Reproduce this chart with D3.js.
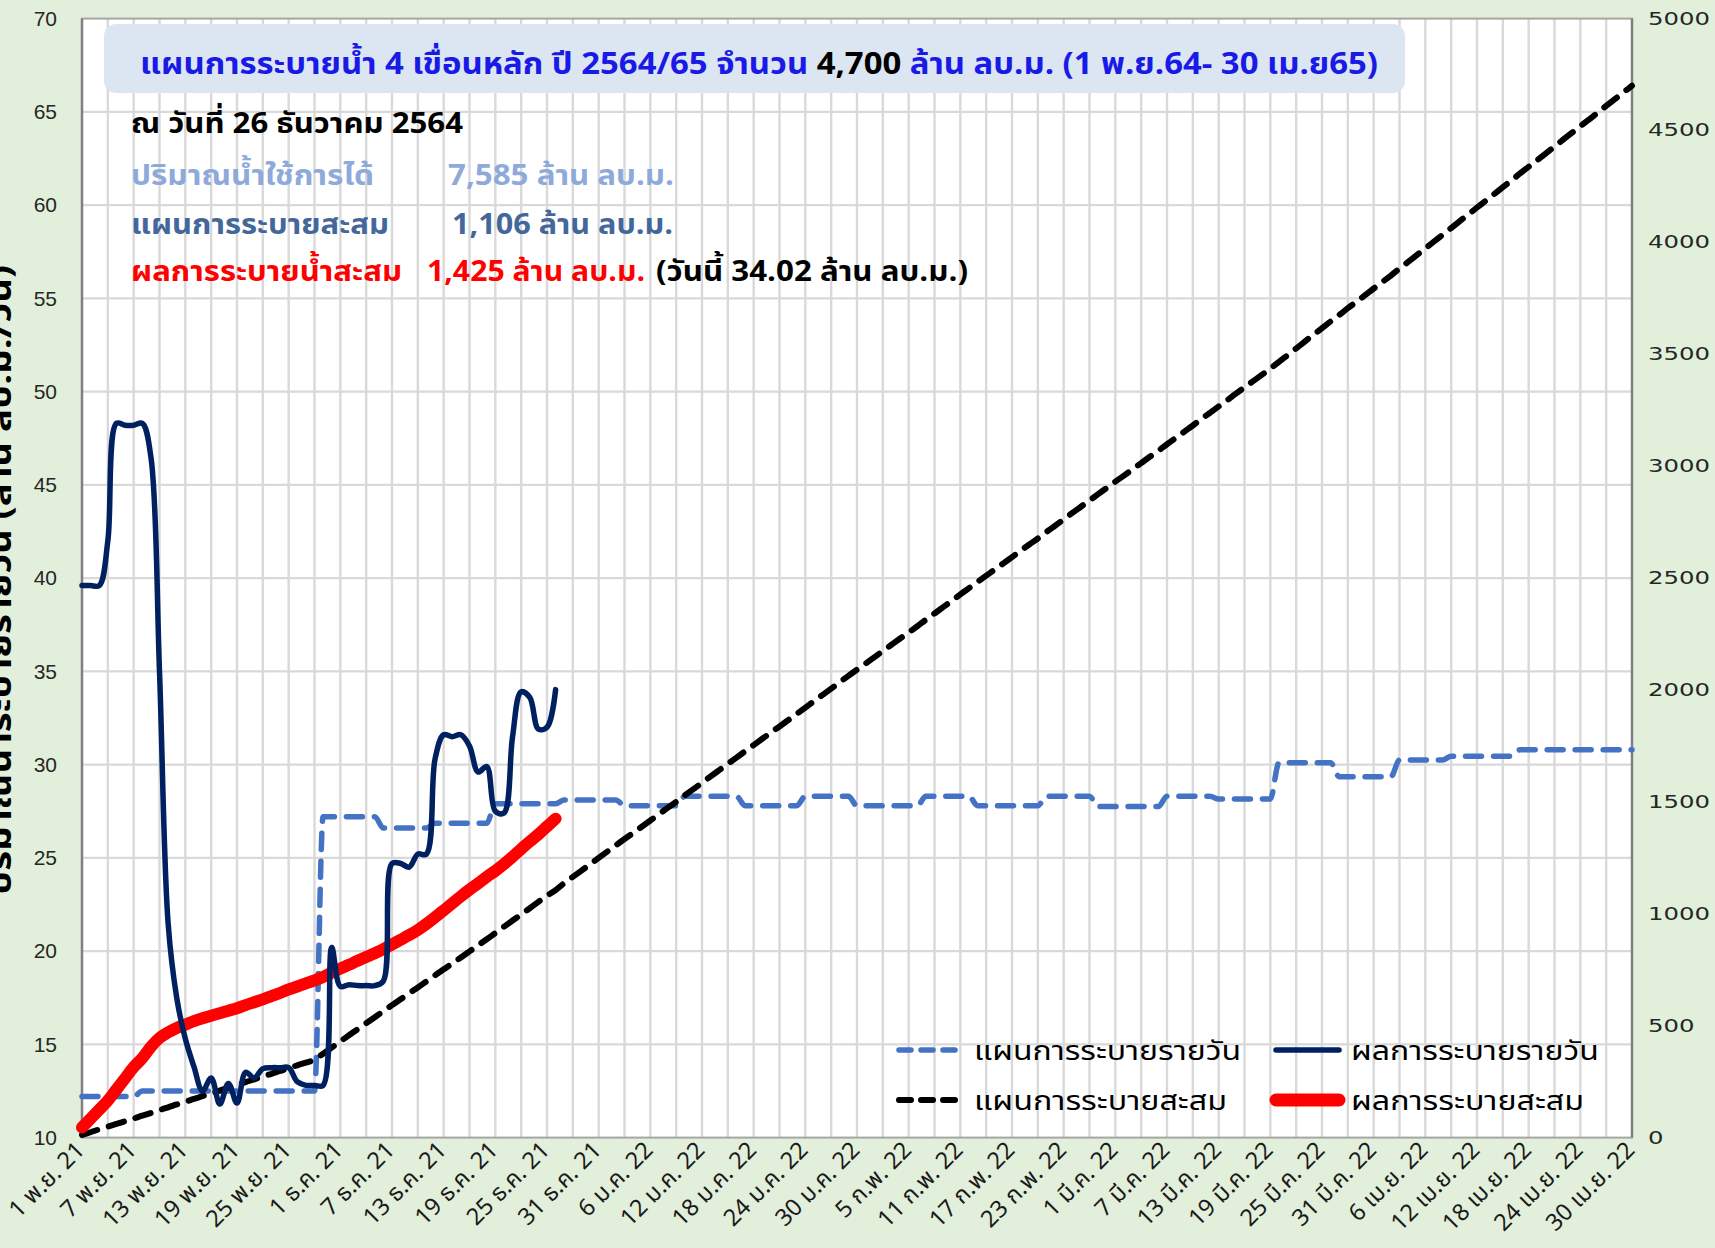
<!DOCTYPE html>
<html>
<head>
<meta charset="utf-8">
<script src="https://cdnjs.cloudflare.com/ajax/libs/d3/7.8.5/d3.min.js"></script>
<style>
  html, body { margin: 0; padding: 0; background: #e2efda; }
  svg { display: block; }
</style>
</head>
<body>
<svg id="chart" width="1715" height="1248"></svg>
<script>
// Tick labels along the date axis, one every 6 days (1 Nov 2021 - 30 Apr 2022, 181 days)
const tickLabels = [
  "1 พ.ย. 21", "7 พ.ย. 21", "13 พ.ย. 21", "19 พ.ย. 21", "25 พ.ย. 21",
  "1 ธ.ค. 21", "7 ธ.ค. 21", "13 ธ.ค. 21", "19 ธ.ค. 21", "25 ธ.ค. 21",
  "31 ธ.ค. 21", "6 ม.ค. 22", "12 ม.ค. 22", "18 ม.ค. 22", "24 ม.ค. 22",
  "30 ม.ค. 22", "5 ก.พ. 22", "11 ก.พ. 22", "17 ก.พ. 22", "23 ก.พ. 22",
  "1 มี.ค. 22", "7 มี.ค. 22", "13 มี.ค. 22", "19 มี.ค. 22", "25 มี.ค. 22",
  "31 มี.ค. 22", "6 เม.ย. 22", "12 เม.ย. 22", "18 เม.ย. 22", "24 เม.ย. 22",
  "30 เม.ย. 22"
];

// Daily release plan (million m3/day), one value per day
const planDaily = [
  12.2, 12.2, 12.2, 12.2, 12.2, 12.2, 12.2,
  12.5, 12.5, 12.5, 12.5, 12.5, 12.5, 12.5, 12.5, 12.5, 12.5, 12.5,
  12.5, 12.5, 12.5, 12.5, 12.5, 12.5, 12.5, 12.5, 12.5, 12.5,
  27.2, 27.2, 27.2, 27.2, 27.2, 27.2, 27.2,
  26.6, 26.6, 26.6, 26.6, 26.6, 26.6,
  26.85, 26.85, 26.85, 26.85, 26.85, 26.85, 26.85,
  27.9, 27.9, 27.9, 27.9, 27.9, 27.9, 27.9, 27.9,
  28.1, 28.1, 28.1, 28.1, 28.1, 28.1, 28.1,
  27.8, 27.8, 27.8, 27.8, 27.8, 27.8, 27.8,
  28.3, 28.3, 28.3, 28.3, 28.3, 28.3, 28.3,
  27.8, 27.8, 27.8, 27.8, 27.8, 27.8, 27.8,
  28.3, 28.3, 28.3, 28.3, 28.3, 28.3,
  27.8, 27.8, 27.8, 27.8, 27.8, 27.8, 27.8, 27.8,
  28.3, 28.3, 28.3, 28.3, 28.3, 28.3,
  27.8, 27.8, 27.8, 27.8, 27.8, 27.8, 27.8, 27.8,
  28.3, 28.3, 28.3, 28.3, 28.3, 28.3,
  27.75, 27.75, 27.75, 27.75, 27.75, 27.75, 27.75, 27.75,
  28.3, 28.3, 28.3, 28.3, 28.3, 28.3,
  28.15, 28.15, 28.15, 28.15, 28.15, 28.15, 28.15,
  30.1, 30.1, 30.1, 30.1, 30.1, 30.1, 30.1,
  29.35, 29.35, 29.35, 29.35, 29.35, 29.35, 29.35,
  30.25, 30.25, 30.25, 30.25, 30.25, 30.25,
  30.45, 30.45, 30.45, 30.45, 30.45, 30.45, 30.45, 30.45,
  30.8, 30.8, 30.8, 30.8, 30.8, 30.8, 30.8,
  30.8, 30.8, 30.8, 30.8, 30.8, 30.8, 30.8
];

// Cumulative release plan (million m3), right axis
const planCumulative = [
  12, 24, 37, 49, 61, 73, 85,
  98, 110, 123, 135, 148, 160, 173, 185, 198, 210, 223,
  235, 248, 260, 273, 285, 298, 310, 323, 335, 348,
  375, 402, 430, 457, 484, 511, 538,
  565, 592, 618, 645, 671, 698,
  725, 752, 778, 805, 832, 859, 886,
  914, 942, 970, 997, 1025, 1053, 1081, 1106,
  1137, 1165, 1193, 1221, 1250, 1278, 1306,
  1334, 1361, 1389, 1417, 1445, 1473, 1500,
  1529, 1557, 1585, 1614, 1642, 1670, 1698,
  1726, 1754, 1782, 1810, 1837, 1865, 1893,
  1921, 1950, 1978, 2006, 2035, 2063,
  2091, 2118, 2146, 2174, 2202, 2230, 2257, 2285,
  2314, 2342, 2370, 2398, 2427, 2455,
  2483, 2511, 2538, 2566, 2594, 2622, 2650, 2677,
  2706, 2734, 2762, 2791, 2819, 2847,
  2875, 2903, 2931, 2958, 2986, 3014, 3042, 3069,
  3098, 3126, 3154, 3182, 3211, 3239,
  3267, 3295, 3324, 3352, 3380, 3408, 3436,
  3466, 3496, 3526, 3557, 3587, 3617, 3647,
  3676, 3706, 3735, 3764, 3794, 3823, 3852,
  3883, 3913, 3943, 3973, 4004, 4034,
  4064, 4095, 4125, 4156, 4186, 4216, 4247, 4277,
  4308, 4338, 4368, 4398, 4428, 4459, 4489,
  4519, 4549, 4579, 4610, 4640, 4670, 4700
];

// Actual daily release (million m3/day), 1 Nov - 26 Dec 2021
const actualDaily = [
  39.6, 39.6, 39.6, 42.0, 48.3, 48.2, 48.2, 48.3, 46.5, 35.0,
  21.5, 17.5, 15.3, 13.8, 12.5, 13.2, 11.8, 12.9, 11.85, 13.5,
  13.2, 13.7, 13.75, 13.75, 13.75, 13.0, 12.8, 12.8, 12.8, 20.2,
  18.1, 18.2, 18.15, 18.15, 18.15, 18.4, 24.7, 24.7, 24.5, 25.2,
  25.2, 30.3, 31.6, 31.5, 31.6, 31.0, 29.6, 29.9, 27.5, 27.4,
  31.5, 33.9, 33.6, 31.9, 32.0, 34.02
];

// Actual cumulative release (million m3), right axis
const actualCumulative = [
  45, 85, 125, 165, 215, 265, 315, 355, 405, 445,
  470, 490, 505, 520, 533, 545, 556, 567, 578, 592,
  605, 618, 632, 646, 662, 675, 689, 703, 718, 737,
  755, 772, 790, 807, 824, 842, 863, 884, 905, 928,
  955, 985, 1015, 1047, 1078, 1108, 1136, 1165, 1192, 1222,
  1255, 1290, 1323, 1355, 1390, 1425
];

const legendLabels = ["แผนการระบายรายวัน", "ผลการระบายรายวัน", "แผนการระบายสะสม", "ผลการระบายสะสม"];
const leftTicks = [10, 15, 20, 25, 30, 35, 40, 45, 50, 55, 60, 65, 70];
const rightTicks = [0, 500, 1000, 1500, 2000, 2500, 3000, 3500, 4000, 4500, 5000];

const THAI = "Tahoma, 'Noto Sans Thai', 'Leelawadee UI', 'Noto Sans', 'DejaVu Sans', sans-serif";

const svg = d3.select("#chart");
const W = 1715, H = 1248;
const m = { left: 82, right: 1632, top: 18.6, bottom: 1137.6 };

const x = d3.scaleLinear().domain([0, 180]).range([m.left, m.right]);
const yL = d3.scaleLinear().domain([10, 70]).range([m.bottom, m.top]);
const yR = d3.scaleLinear().domain([0, 5000]).range([m.bottom, m.top]);

svg.append("rect").attr("width", W).attr("height", H).attr("fill", "#e2efda");

// plot area
svg.append("rect")
  .attr("x", m.left).attr("y", m.top)
  .attr("width", m.right - m.left).attr("height", m.bottom - m.top)
  .attr("fill", "#ffffff");

// gridlines
const grid = svg.append("g").attr("stroke", "#d9d9d9").attr("stroke-width", 2.4);
grid.selectAll("line.v").data(d3.range(3, 180, 3)).join("line")
  .attr("x1", d => x(d)).attr("x2", d => x(d))
  .attr("y1", m.top).attr("y2", m.bottom);
grid.selectAll("line.h").data(leftTicks.slice(1, -1)).join("line")
  .attr("x1", m.left).attr("x2", m.right)
  .attr("y1", d => yL(d)).attr("y2", d => yL(d));

// plot border
svg.append("rect")
  .attr("x", m.left).attr("y", m.top)
  .attr("width", m.right - m.left).attr("height", m.bottom - m.top)
  .attr("fill", "none").attr("stroke", "#a6a6a6").attr("stroke-width", 2);
svg.append("line").attr("x1", m.left).attr("x2", m.left).attr("y1", m.top).attr("y2", m.bottom)
  .attr("stroke", "#808080").attr("stroke-width", 2.5);
svg.append("line").attr("x1", m.right).attr("x2", m.right).attr("y1", m.top).attr("y2", m.bottom)
  .attr("stroke", "#808080").attr("stroke-width", 2.5);

// left axis
const axL = svg.append("g").attr("transform", `translate(${m.left},0)`)
  .call(d3.axisLeft(yL).tickValues(leftTicks).tickSize(0).tickPadding(25));
axL.select(".domain").remove();
axL.selectAll("text").attr("font-family", "'Liberation Sans', Arial, sans-serif")
  .attr("font-size", 21).attr("fill", "#262626");

// right axis
const axR = svg.append("g").attr("transform", `translate(${m.right},0)`)
  .call(d3.axisRight(yR).tickValues(rightTicks).tickFormat(d3.format("d")).tickSize(0).tickPadding(16));
axR.select(".domain").remove();
axR.selectAll("text").attr("font-family", "'DejaVu Sans', Verdana, sans-serif")
  .attr("font-size", 17).attr("fill", "#262626")
  .attr("textLength", d => String(d).length * 15.5).attr("lengthAdjust", "spacingAndGlyphs");

// date labels
svg.append("g").selectAll("text").data(tickLabels).join("text")
  .attr("transform", (d, i) => `translate(${x(i * 6) + 4},${m.bottom + 14}) rotate(-45)`)
  .attr("text-anchor", "end")
  .attr("font-family", THAI).attr("font-size", 23.5).attr("fill", "#1a1a1a")
  .text(d => d);

// left axis title (partly outside the page)
svg.append("text")
  .attr("transform", `translate(11,580) rotate(-90)`)
  .attr("text-anchor", "middle")
  .attr("font-family", THAI).attr("font-weight", "bold").attr("font-size", 31).attr("fill", "#000")
  .attr("textLength", 630).attr("lengthAdjust", "spacingAndGlyphs")
  .text("ปริมาณน้ำระบายรายวัน (ล้าน ลบ.ม./วัน)");

// series
const lineL = d3.line().x((d, i) => x(i)).y(d => yL(d)).curve(d3.curveMonotoneX);
const lineR = d3.line().x((d, i) => x(i)).y(d => yR(d)).curve(d3.curveMonotoneX);
const lineSmooth = d3.line().x((d, i) => x(i)).y(d => yL(d)).curve(d3.curveCatmullRom.alpha(0.5));

svg.append("path").datum(planDaily).attr("d", lineL)
  .attr("fill", "none").attr("stroke", "#4472c4").attr("stroke-width", 5.5)
  .attr("stroke-dasharray", "16,12").attr("stroke-linecap", "round");

svg.append("path").datum(planCumulative).attr("d", lineR)
  .attr("fill", "none").attr("stroke", "#000").attr("stroke-width", 6)
  .attr("stroke-dasharray", "16,12").attr("stroke-linecap", "round");

svg.append("path").datum(actualCumulative).attr("d", lineR)
  .attr("fill", "none").attr("stroke", "#ff0000").attr("stroke-width", 12)
  .attr("stroke-linecap", "round").attr("stroke-linejoin", "round");

svg.append("path").datum(actualDaily).attr("d", lineSmooth)
  .attr("fill", "none").attr("stroke", "#002060").attr("stroke-width", 5.5)
  .attr("stroke-linecap", "round").attr("stroke-linejoin", "round");

// legend
const legend = svg.append("g");
const legItems = [
  { label: legendLabels[0], x: 895, y: 1050, color: "#4472c4", w: 5.5, dash: "12,10", tx: 974, tw: 267 },
  { label: legendLabels[1], x: 1272, y: 1050, color: "#002060", w: 5.5, dash: null, tx: 1351, tw: 248 },
  { label: legendLabels[2], x: 895, y: 1100, color: "#000000", w: 6, dash: "12,10", tx: 974, tw: 253 },
  { label: legendLabels[3], x: 1272, y: 1100, color: "#ff0000", w: 13, dash: null, tx: 1351, tw: 233 }
];
legItems.forEach(it => {
  legend.append("line")
    .attr("x1", it.x + 4).attr("x2", it.x + 67).attr("y1", it.y).attr("y2", it.y)
    .attr("stroke", it.color).attr("stroke-width", it.w).attr("stroke-linecap", "round")
    .attr("stroke-dasharray", it.dash);
  legend.append("text")
    .attr("x", it.tx).attr("y", it.y + 10)
    .attr("font-family", THAI).attr("font-size", 27).attr("fill", "#000")
    .attr("textLength", it.tw).attr("lengthAdjust", "spacingAndGlyphs")
    .text(it.label);
});

// title box
svg.append("rect")
  .attr("x", 104).attr("y", 24).attr("width", 1301).attr("height", 69)
  .attr("rx", 12).attr("fill", "#dce6f2");

const title = svg.append("text")
  .attr("x", 140).attr("y", 74)
  .attr("font-family", THAI).attr("font-weight", "bold").attr("font-size", 30)
  .attr("textLength", 1238).attr("lengthAdjust", "spacingAndGlyphs");
title.append("tspan").attr("fill", "#1a1ae6").text("แผนการระบายน้ำ 4 เขื่อนหลัก ปี 2564/65 จำนวน ");
title.append("tspan").attr("fill", "#000").text("4,700");
title.append("tspan").attr("fill", "#1a1ae6").text(" ล้าน ลบ.ม. (1 พ.ย.64- 30 เม.ย65)");

// status notes
const notes = [
  { t: "ณ วันที่ 26 ธันวาคม 2564", x: 131, y: 133, w: 332, c: "#000000" },
  { t: "ปริมาณน้ำใช้การได้", x: 131, y: 185, w: 243, c: "#8eaadb" },
  { t: "7,585 ล้าน ลบ.ม.", x: 448, y: 185, w: 226, c: "#8eaadb" },
  { t: "แผนการระบายสะสม", x: 131, y: 234, w: 258, c: "#44679b" },
  { t: "1,106 ล้าน ลบ.ม.", x: 452, y: 234, w: 221, c: "#44679b" },
  { t: "ผลการระบายน้ำสะสม", x: 131, y: 281, w: 271, c: "#ff0000" },
  { t: "1,425 ล้าน ลบ.ม.", x: 427, y: 281, w: 218, c: "#ff0000" },
  { t: "(วันนี้ 34.02 ล้าน ลบ.ม.)", x: 656, y: 281, w: 312, c: "#000000" }
];
svg.append("g").selectAll("text").data(notes).join("text")
  .attr("x", d => d.x).attr("y", d => d.y)
  .attr("font-family", THAI).attr("font-weight", "bold").attr("font-size", 29)
  .attr("fill", d => d.c)
  .attr("textLength", d => d.w).attr("lengthAdjust", "spacingAndGlyphs")
  .text(d => d.t);
</script>
</body>
</html>
